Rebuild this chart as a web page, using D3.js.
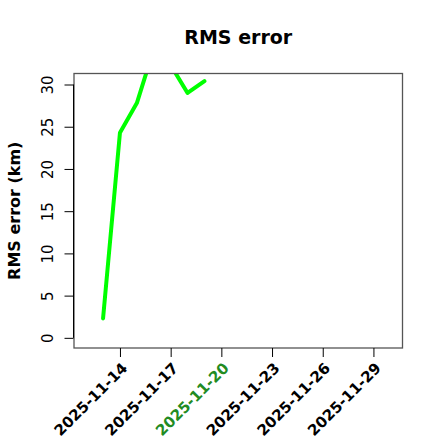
<!DOCTYPE html>
<html>
<head>
<meta charset="utf-8">
<script src="https://cdn.jsdelivr.net/npm/d3@7"></script>
<style>
  body { margin: 0; background: #fff; }
  text { font-family: "DejaVu Sans", sans-serif; }
</style>
</head>
<body>
<div id="chart"></div>
<script>
// data
let dates = ['2025-11-13', '2025-11-14', '2025-11-15', '2025-11-16', '2025-11-17', '2025-11-18', '2025-11-19'];
let rmsError = [2.3, 24.3, 27.8, 34.2, 32.3, 29.0, 30.4];
let yTicks = [0, 5, 10, 15, 20, 25, 30];
let xTickDates = ['2025-11-14', '2025-11-17', '2025-11-20', '2025-11-23', '2025-11-26', '2025-11-29'];
let highlightDate = '2025-11-20';

let width = 440;
let height = 440;
let box = { left: 74, right: 402.5, top: 73.5, bottom: 348 };

let parse = d3.utcParse('%Y-%m-%d');

let svg = d3.select('#chart').append('svg')
  .attr('width', width)
  .attr('height', height);

// R style 4% padding around the data limits
let xLim = [parse('2025-11-12'), parse('2025-11-30')];
let yLim = [0, 30.1];
let padX = (xLim[1] - xLim[0]) * 0.04;
let padY = (yLim[1] - yLim[0]) * 0.04;

let x = d3.scaleUtc()
  .domain([new Date(+xLim[0] - padX), new Date(+xLim[1] + padX)])
  .range([box.left, box.right]);

let y = d3.scaleLinear()
  .domain([yLim[0] - padY, yLim[1] + padY])
  .range([box.bottom, box.top]);

svg.append('defs').append('clipPath')
  .attr('id', 'plot-clip')
  .append('rect')
  .attr('x', box.left)
  .attr('y', box.top)
  .attr('width', box.right - box.left)
  .attr('height', box.bottom - box.top);

// the line
let line = d3.line()
  .x((d, i) => x(parse(dates[i])))
  .y(d => y(d));

svg.append('path')
  .datum(rmsError)
  .attr('clip-path', 'url(#plot-clip)')
  .attr('d', line)
  .attr('fill', 'none')
  .attr('stroke', '#00ff00')
  .attr('stroke-width', 4)
  .attr('stroke-linejoin', 'round')
  .attr('stroke-linecap', 'round');

// box
svg.append('rect')
  .attr('x', box.left)
  .attr('y', box.top)
  .attr('width', box.right - box.left)
  .attr('height', box.bottom - box.top)
  .attr('fill', 'none')
  .attr('stroke', '#555')
  .attr('stroke-width', 1.3);

// y axis
let yAxis = svg.append('g')
  .attr('transform', `translate(${box.left - 0.5},0)`)
  .call(d3.axisLeft(y).tickValues(yTicks).tickSize(9).tickSizeOuter(0).tickFormat(d3.format('d')));
yAxis.select('.domain')
  .attr('d', `M0,${y(yTicks[0])}V${y(yTicks[yTicks.length - 1])}`)
  .attr('stroke', '#000');
yAxis.selectAll('.tick line').attr('stroke', '#000');
yAxis.selectAll('.tick text')
  .attr('font-size', 15)
  .attr('fill', '#000')
  .attr('text-anchor', 'middle')
  .attr('x', null)
  .attr('dy', null)
  .attr('transform', 'translate(-21,0) rotate(-90)');

// x axis
let xAxis = svg.append('g')
  .attr('transform', `translate(0,${box.bottom})`)
  .call(d3.axisBottom(x).tickValues(xTickDates.map(parse)).tickSize(9).tickFormat(d3.utcFormat('%Y-%m-%d')));
xAxis.select('.domain').remove();
xAxis.selectAll('.tick line').attr('stroke', '#000');
xAxis.selectAll('.tick text')
  .attr('font-size', 15)
  .attr('font-weight', 'bold')
  .attr('fill', d => d3.utcFormat('%Y-%m-%d')(d) === highlightDate ? '#228b22' : '#000')
  .attr('text-anchor', 'end')
  .attr('y', null)
  .attr('dy', null)
  .attr('transform', 'translate(8,21) rotate(-45)');

// titles
svg.append('text')
  .attr('x', (box.left + box.right) / 2)
  .attr('y', 44)
  .attr('text-anchor', 'middle')
  .attr('font-size', 19)
  .attr('font-weight', 'bold')
  .text('RMS error');

svg.append('text')
  .attr('transform', `translate(20,${(box.top + box.bottom) / 2}) rotate(-90)`)
  .attr('text-anchor', 'middle')
  .attr('font-size', 16)
  .attr('font-weight', 'bold')
  .text('RMS error (km)');
</script>
</body>
</html>
